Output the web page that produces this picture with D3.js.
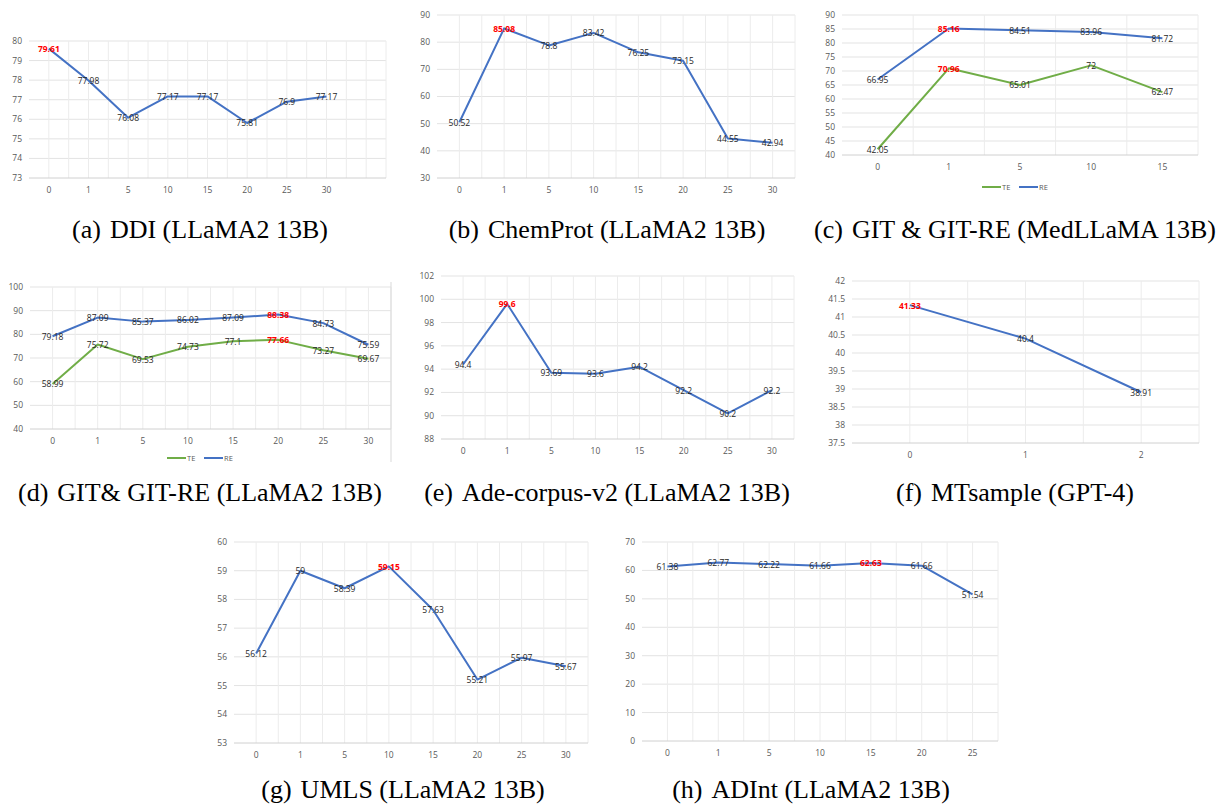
<!DOCTYPE html>
<html>
<head>
<meta charset="utf-8">
<script src="https://cdn.jsdelivr.net/npm/d3@7"></script>
<style>
html,body{margin:0;padding:0;background:#fff;}
svg{display:block;}
</style>
</head>
<body>
<svg id="chart" width="1218" height="808"></svg>
<script>
// ---------- DATA ----------
const catsA = ["0","1","5","10","15","20","25","30",""];
const ddiRE = [79.61,77.98,76.08,77.17,77.17,75.81,76.9,77.17];

const catsB = ["0","1","5","10","15","20","25","30"];
const chemprotRE = [50.52,85.08,78.8,83.42,76.25,73.15,44.55,42.94];

const catsC = ["0","1","5","10","15"];
const gitMedTE = [42.05,70.96,65.01,72,62.47];
const gitMedRE = [66.95,85.16,84.51,83.96,81.72];

const catsD = ["0","1","5","10","15","20","25","30"];
const gitLlamaTE = [58.99,75.72,69.53,74.73,77.1,77.66,73.27,69.67];
const gitLlamaRE = [79.18,87.09,85.37,86.02,87.09,88.38,84.73,75.59];

const catsE = ["0","1","5","10","15","20","25","30"];
const adeRE = [94.4,99.6,93.69,93.6,94.2,92.2,90.2,92.2];

const catsF = ["0","1","2"];
const mtsampleRE = [41.33,40.4,38.91];

const catsG = ["0","1","5","10","15","20","25","30"];
const umlsRE = [56.12,59,58.39,59.15,57.63,55.21,55.97,55.67];

const catsH = ["0","1","5","10","15","20","25"];
const adintRE = [61.38,62.77,62.22,61.66,62.63,61.66,51.54];

const captions = ["(a)|DDI (LLaMA2 13B)","(b)|ChemProt (LLaMA2 13B)","(c)|GIT & GIT-RE (MedLLaMA 13B)",
  "(d)|GIT& GIT-RE (LLaMA2 13B)","(e)|Ade-corpus-v2 (LLaMA2 13B)","(f)|MTsample (GPT-4)",
  "(g)|UMLS (LLaMA2 13B)","(h)|ADInt (LLaMA2 13B)"];
const legendNames = ["TE","RE"];

// ---------- LAYOUT ----------
const BLUE = "#4472C4", GREEN = "#70AD47";
const panels = [
  {cats:catsA, series:[{v:ddiRE,c:BLUE,red:0}], x0:29,x1:386,y0:41,y1:178, dom:[73,80], step:1, half:true, cap:[0,200,238]},
  {cats:catsB, series:[{v:chemprotRE,c:BLUE,red:1}], x0:437,x1:795,y0:15,y1:178, dom:[30,90], step:10, half:true, cap:[1,607,238]},
  {cats:catsC, series:[{v:gitMedTE,c:GREEN,red:1},{v:gitMedRE,c:BLUE,red:1}], x0:842,x1:1198,y0:15,y1:155, dom:[40,90], step:5, half:false, cap:[2,1015,238], legend:[982,187]},
  {cats:catsD, series:[{v:gitLlamaTE,c:GREEN,red:5},{v:gitLlamaRE,c:BLUE,red:5}], x0:30,x1:391,y0:287,y1:429, dom:[40,100], step:10, half:true, cap:[3,200,501], legend:[167,458], border:true},
  {cats:catsE, series:[{v:adeRE,c:BLUE,red:1}], x0:441,x1:794,y0:276,y1:439, dom:[88,102], step:2, half:true, cap:[4,607,501]},
  {cats:catsF, series:[{v:mtsampleRE,c:BLUE,red:0}], x0:852,x1:1199,y0:281,y1:443, dom:[37.5,42], step:0.5, half:true, cap:[5,1015,501]},
  {cats:catsG, series:[{v:umlsRE,c:BLUE,red:3}], x0:234,x1:588,y0:542,y1:743, dom:[53,60], step:1, half:true, cap:[6,403,798]},
  {cats:catsH, series:[{v:adintRE,c:BLUE,red:4}], x0:642,x1:998,y0:542,y1:741, dom:[0,70], step:10, half:true, cap:[7,811,798]}
];

const svg = d3.select("#chart");
const tickFont = "'Open Sans', sans-serif";

panels.forEach(p => {
  const g = svg.append("g");
  const x = d3.scaleBand().domain(p.cats.map((c,i)=>i)).range([p.x0,p.x1]);
  const y = d3.scaleLinear().domain(p.dom).range([p.y1,p.y0]);
  const nT = Math.round((p.dom[1]-p.dom[0])/p.step);
  const yTicks = d3.range(nT+1).map(i => +(p.dom[0]+i*p.step).toFixed(2));

  // horizontal gridlines
  g.append("g").selectAll("line").data(yTicks.slice(1)).join("line")
    .attr("x1",p.x0).attr("x2",p.x1).attr("y1",d=>y(d)).attr("y2",d=>y(d))
    .attr("stroke","#e3e3e3").attr("stroke-width",1);
  // vertical gridlines
  const vlines = [];
  p.cats.forEach((c,i)=>{
    if(i>0) vlines.push(x(i));
    if(p.half) vlines.push(x(i)+x.bandwidth()/2);
  });
  vlines.push(p.x1);
  g.append("g").selectAll("line").data(vlines).join("line")
    .attr("x1",d=>d).attr("x2",d=>d).attr("y1",p.y0).attr("y2",p.y1)
    .attr("stroke","#ececec").attr("stroke-width",1);
  // x axis line
  g.append("line").attr("x1",p.x0).attr("x2",p.x1).attr("y1",y(p.dom[0])).attr("y2",y(p.dom[0]))
    .attr("stroke","#d0d0d0").attr("stroke-width",1);

  // y tick labels
  g.append("g").selectAll("text").data(yTicks).join("text")
    .attr("x",p.x0-7).attr("y",d=>y(d)).attr("dy","0.35em")
    .attr("text-anchor","end").attr("font-family",tickFont).attr("font-size",8.5)
    .attr("fill","#595959").text(d=>d);
  // x tick labels
  g.append("g").selectAll("text").data(p.cats).join("text")
    .attr("x",(d,i)=>x(i)+x.bandwidth()/2).attr("y",p.y1+15)
    .attr("text-anchor","middle").attr("font-family",tickFont).attr("font-size",8.5)
    .attr("fill","#595959").text(d=>d);

  // lines
  p.series.forEach(s => {
    const line = d3.line().x((d,i)=>x(i)+x.bandwidth()/2).y(d=>y(d));
    g.append("path").datum(s.v).attr("d",line).attr("fill","none")
      .attr("stroke",s.c).attr("stroke-width",2).attr("stroke-linejoin","round");
  });
  // labels
  p.series.forEach(s => {
    g.append("g").selectAll("text").data(s.v).join("text")
      .attr("x",(d,i)=>x(i)+x.bandwidth()/2).attr("y",d=>y(d)).attr("dy","0.4em")
      .attr("text-anchor","middle").attr("font-family",tickFont).attr("font-size",8.5)
      .attr("fill",(d,i)=> i===s.red ? "#FF0000" : "#262626")
      .attr("font-weight",(d,i)=> i===s.red ? "bold" : "normal")
      .text(d=>d);
  });

  // legend
  if(p.legend){
    const [lx,ly] = p.legend;
    [GREEN,BLUE].forEach((c,k)=>{
      const ox = lx + k*37;
      g.append("line").attr("x1",ox).attr("x2",ox+19).attr("y1",ly).attr("y2",ly)
        .attr("stroke",c).attr("stroke-width",2);
      g.append("text").attr("x",ox+20).attr("y",ly).attr("dy","0.35em")
        .attr("font-family",tickFont).attr("font-size",7.5).attr("fill","#595959")
        .text(legendNames[k]);
    });
  }
  if(p.border){
    g.append("line").attr("x1",p.x1).attr("x2",p.x1).attr("y1",p.y0-5).attr("y2",p.y1+33)
      .attr("stroke","#d9d9d9");
  }

  // caption
  const [ci,cx,cy] = p.cap;
  const parts = captions[ci].split("|");
  const t = g.append("text").attr("x",cx).attr("y",cy).attr("text-anchor","middle")
    .attr("font-family","'Liberation Serif', 'Times New Roman', serif").attr("font-size",26)
    .attr("fill","#000");
  t.append("tspan").text(parts[0]);
  t.append("tspan").attr("dx",9).text(parts[1]);
});
</script>
</body>
</html>
